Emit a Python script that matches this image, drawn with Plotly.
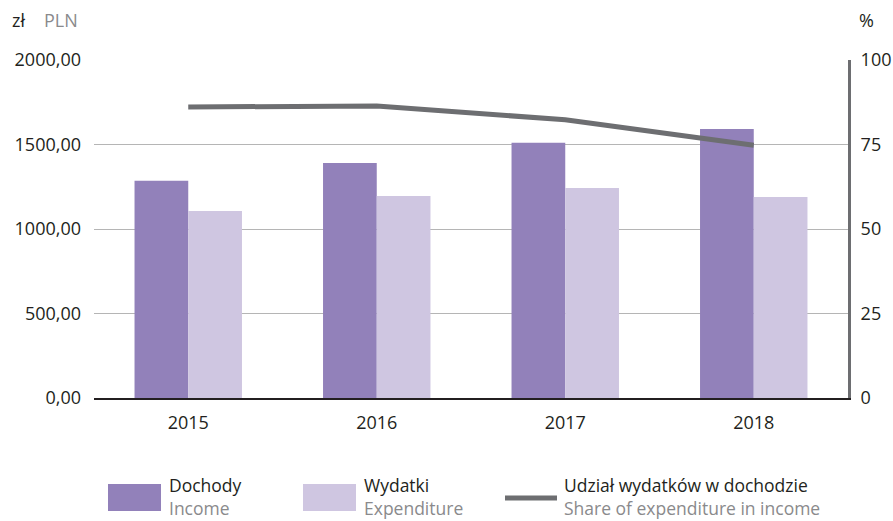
import plotly.graph_objects as go

# ---------------------------------------------------------------------------
# Data
# ---------------------------------------------------------------------------
years = ["2015", "2016", "2017", "2018"]
income = [1285, 1390, 1510, 1592]          # Dochody / Income (zł)
expenditure = [1106, 1195, 1243, 1190]     # Wydatki / Expenditure (zł)
share = [86.1, 86.4, 82.3, 74.8]           # Udział wydatków w dochodzie (%)

left_ticks = [0, 500, 1000, 1500, 2000]
right_ticks = [0, 25, 50, 75, 100]

# ---------------------------------------------------------------------------
# Style
# ---------------------------------------------------------------------------
_FONT = "Open Sans, Noto Sans, sans-serif"
_TEXT = "#231f20"
_MUTED = "#8a8a8c"
_INCOME = "#9281ba"
_EXPEND = "#cfc6e1"
_LINE = "#6d6e71"
_GRID = "#b5b5b5"
_FS = 18
_LEG_FS = 17.5

fig = go.Figure()

fig.add_trace(go.Bar(x=years, y=income, name="Dochody", marker=dict(color=_INCOME, line_width=0)))
fig.add_trace(go.Bar(x=years, y=expenditure, name="Wydatki", marker=dict(color=_EXPEND, line_width=0)))
fig.add_trace(go.Scatter(
    x=years, y=share, name="Udział wydatków w dochodzie", mode="lines",
    line=dict(color=_LINE, width=5), yaxis="y2",
))

fig.update_layout(
    template=None,
    width=893,
    height=521,
    paper_bgcolor="white",
    plot_bgcolor="white",
    showlegend=False,
    separators=", ",
    barmode="group",
    bargap=0.43,
    bargroupgap=0,
    font=dict(family=_FONT, color=_TEXT, size=_FS),
    margin=dict(l=94, r=45, t=60, b=123),
    xaxis=dict(
        type="category",
        showgrid=False,
        showline=True,
        linecolor="#231f20",
        linewidth=1.5,
        ticks="",
        ticklabelstandoff=8,
        tickfont=dict(size=_FS, color=_TEXT),
    ),
    yaxis=dict(
        range=[0, 2000],
        tickvals=left_ticks,
        tickformat=".2f",
        showgrid=True,
        gridcolor=_GRID,
        gridwidth=1,
        zeroline=False,
        showline=False,
        ticks="",
        ticklabelstandoff=12,
        tickfont=dict(size=_FS, color=_TEXT),
    ),
    yaxis2=dict(
        range=[0, 100],
        tickvals=right_ticks,
        overlaying="y",
        side="right",
        showgrid=False,
        zeroline=False,
        showline=True,
        linecolor=_LINE,
        linewidth=3,
        ticks="",
        ticklabelstandoff=6,
        tickfont=dict(size=_FS, color=_TEXT),
    ),
)


# pixel -> paper helpers for the free-standing labels
def px_x(v):
    return (v - 94) / 754


def px_y(v):
    return (398 - v) / 338


# axis unit labels
fig.add_annotation(xref="paper", yref="paper", x=px_x(10), y=px_y(20), xanchor="left", yanchor="middle",
                   text="zł", showarrow=False, font=dict(size=_FS, color=_TEXT))
fig.add_annotation(xref="paper", yref="paper", x=px_x(42), y=px_y(20), xanchor="left", yanchor="middle",
                   text="PLN", showarrow=False, font=dict(size=_FS, color=_MUTED))
fig.add_annotation(xref="paper", yref="paper", x=px_x(857), y=px_y(20), xanchor="left", yanchor="middle",
                   text="%", showarrow=False, font=dict(size=_FS, color=_TEXT))

# custom two-language legend below the plot
legend_items = [
    (108, "bar", _INCOME, "Dochody", "Income"),
    (303, "bar", _EXPEND, "Wydatki", "Expenditure"),
    (503, "line", _LINE, "Udział wydatków w dochodzie", "Share of expenditure in income"),
]
for left, kind, color, pl, en in legend_items:
    if kind == "bar":
        fig.add_shape(type="rect", xref="paper", yref="paper",
                      x0=px_x(left), x1=px_x(left + 53), y0=px_y(511), y1=px_y(484),
                      fillcolor=color, line_width=0)
    else:
        fig.add_shape(type="line", xref="paper", yref="paper",
                      x0=px_x(left + 2), x1=px_x(left + 54), y0=px_y(498), y1=px_y(498),
                      line=dict(color=color, width=5))
    fig.add_annotation(
        xref="paper", yref="paper", x=px_x(left + 60), y=px_y(496),
        xanchor="left", yanchor="middle", align="left", borderpad=0,
        text=f"{pl}<br><span style='color:{_MUTED}'>{en}</span>",
        showarrow=False, font=dict(size=_LEG_FS, color=_TEXT),
    )

fig.write_html("out.html", config={"displayModeBar": False},
               post_script="document.body.style.margin='0';")
